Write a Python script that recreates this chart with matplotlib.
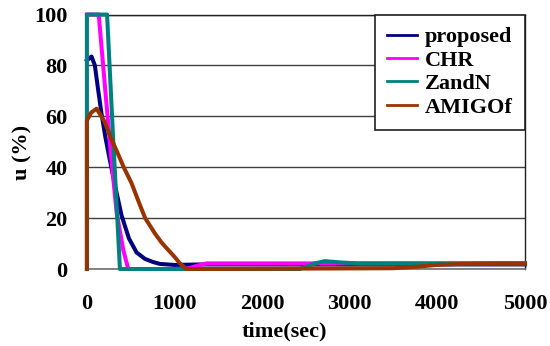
import matplotlib
matplotlib.use("Agg")
import matplotlib.pyplot as plt

plt.rcParams['font.family'] = ['Liberation Serif', 'DejaVu Serif']
plt.rcParams['font.weight'] = 'bold'

# proposed
t_prop = [0, 53, 91, 130, 167, 210, 255, 320, 396, 480, 567, 662, 750, 833, 1000, 1300, 5000]
u_prop = [82, 83.5, 80, 70, 61, 52, 44, 33, 21, 12, 6.5, 4, 2.8, 2, 1.6, 1.8, 1.8]
# CHR
t_chr = [0, 135, 160, 274, 340, 415, 472, 1137, 1250, 1365, 5000]
u_chr = [100, 100, 90, 45, 22, 7.5, 0, 0, 1.2, 2.2, 2.2]
# ZandN
t_zn = [0, 0, 230, 243, 300, 338, 377, 2430, 2600, 2717, 2888, 3100, 4000, 5000]
u_zn = [0, 100, 100, 91, 51, 26, 0, 0, 2.2, 3.1, 2.6, 2.2, 2.2, 2.2]
# AMIGOf
t_am = [0, 0, 50, 110, 200, 280, 339, 420, 510, 590, 665, 776, 850, 928, 1000, 1062, 1138,
        3490, 3763, 3990, 4260, 4640, 5000]
u_am = [0, 58.4, 61.5, 63, 58, 51, 46.5, 40, 33.7, 26.5, 20, 14, 10.5, 7.5, 4.8, 2.2, 0,
        0.3, 0.9, 1.6, 2.0, 2.2, 2.2]

names = ['proposed', 'CHR', 'ZandN', 'AMIGOf']
colors = ['#000080', '#FF00FF', '#008080', '#993300']
x_ticks = [0, 1000, 2000, 3000, 4000, 5000]
y_ticks = [0, 20, 40, 60, 80, 100]

FS = 16

fig = plt.figure(figsize=(5.5, 3.46), dpi=100)
ax = fig.add_axes([0.158, 0.2225, 0.7965, 0.7355])

for t, u, c, n in zip([t_prop, t_chr, t_zn, t_am], [u_prop, u_chr, u_zn, u_am], colors, names):
    ax.plot(t, u, color=c, lw=2.9, label=n, clip_on=False, zorder=3,
            solid_joinstyle='round')

ax.set_xlim(0, 5000)
ax.set_ylim(0, 100)
ax.set_xticks(x_ticks)
ax.set_yticks(y_ticks)
ax.set_xticklabels([str(v) for v in x_ticks], fontsize=FS, fontweight='bold')
ax.set_yticklabels([str(v) for v in y_ticks], fontsize=FS, fontweight='bold')
ax.tick_params(axis='both', length=0)
ax.tick_params(axis='y', pad=14)
ax.tick_params(axis='x', pad=18)
ax.yaxis.grid(True, color='#404040', lw=1)
ax.set_axisbelow(True)
for s in ['left', 'right', 'top']:
    ax.spines[s].set_color('#202020')
    ax.spines[s].set_linewidth(1)
ax.spines['bottom'].set_color('#707070')
ax.spines['bottom'].set_linewidth(1.2)

ax.set_xlabel('time(sec)', fontsize=FS, fontweight='bold')
ax.xaxis.set_label_coords(0.45, -0.205)
ax.set_ylabel('u (%)', fontsize=FS, fontweight='bold')
ax.yaxis.set_label_coords(-0.125, 0.46)

leg = ax.legend(loc='upper right', bbox_to_anchor=(1.0, 1.0),
                prop={'weight': 'bold', 'size': FS}, frameon=True, fancybox=False,
                handlelength=1.35, handletextpad=0.35, borderpad=0.55,
                labelspacing=0.13, borderaxespad=0)
for h in leg.get_lines():
    h.set_linewidth(2)
leg.get_frame().set_edgecolor('#202020')
leg.get_frame().set_linewidth(1.2)
leg.get_frame().set_alpha(1)
leg.set_zorder(5)

fig.savefig('out.png', dpi=100)
